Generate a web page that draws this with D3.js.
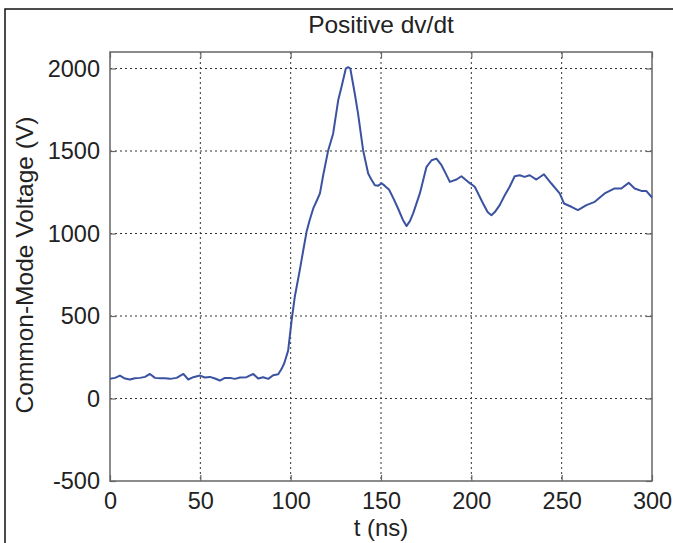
<!DOCTYPE html>
<html>
<head>
<meta charset="utf-8">
<script src="https://cdn.jsdelivr.net/npm/d3@7"></script>
<style>
  html, body { margin: 0; padding: 0; background: #fff; }
  svg { display: block; }
  text { font-family: "Liberation Sans", Arial, sans-serif; fill: #222; }
</style>
</head>
<body>
<svg id="chart" width="673" height="543"></svg>
<script>
{
  // values
  const timeNs = [
    0, 2.8, 5.5, 8.3, 11, 13.8, 16.6, 19.4, 22.1, 24.9, 27.6, 30.4, 33.2, 36.9,
    40.6, 43.3, 46.1, 49.8, 52.5, 55.3, 58.1, 60.8, 63.6, 66.4, 69.1, 71.9, 75.6,
    79.3, 82, 84.8, 87.6, 90.3, 93.1, 95, 96.5, 98.6, 100.5, 102.3, 105, 107,
    108.8, 110.5, 112.5, 114.5, 116.2, 118, 120.8, 123.5, 126.3, 128.1, 130.5,
    131.8, 133, 135.5, 137.3, 140.1, 142.9, 144.5, 146.6, 148.5, 150.3, 152,
    154.5, 157, 159.5, 162, 164.1, 166, 167.8, 171.5, 175.2, 178, 180.7, 183.5,
    186, 188.1, 191.8, 194.5, 198.2, 201.9, 206.5, 209, 211.1, 213, 215.7,
    218.5, 221.2, 224, 226.8, 229.5, 232.3, 236, 240.2, 244.3, 248.9, 251.3,
    255.4, 259, 263.7, 268.3, 273.8, 279.3, 283, 287.1, 290.4, 294.1, 296.8, 300
  ];
  const voltage = [
    120, 125, 139, 121, 115, 123, 125, 131, 149, 125, 123, 123, 119, 125,
    149, 115, 129, 139, 127, 131, 121, 109, 125, 125, 119, 127, 129,
    149, 121, 129, 119, 141, 147, 180, 215, 290, 470, 618, 775, 900,
    1010, 1080, 1152, 1200, 1243, 1353, 1505, 1605, 1807, 1887, 1999,
    2008, 2000, 1847, 1727, 1505, 1364, 1330, 1293, 1290, 1305, 1290,
    1265, 1210, 1150, 1085, 1045, 1075, 1122, 1243, 1404, 1444, 1454, 1414,
    1360, 1313, 1327, 1347, 1313, 1283, 1182, 1130, 1111, 1130, 1172,
    1232, 1283, 1347, 1353, 1343, 1353, 1327, 1359, 1303, 1243, 1182,
    1162, 1142, 1172, 1192, 1243, 1273, 1273, 1307, 1273, 1258, 1258, 1218
  ];
  const xTicks = [0, 50, 100, 150, 200, 250, 300];
  const yTicks = [-500, 0, 500, 1000, 1500, 2000];

  const LINE_BLUE = '#3a52a0';
  const BOX_GREY = '#666';

  const svg = d3.select('#chart');
  const margin = {left: 110, top: 52, right: 21, bottom: 62};
  const width = 673 - margin.left - margin.right;
  const height = 543 - margin.top - margin.bottom;

  const x = d3.scaleLinear().domain([0, 300]).range([0, width]);
  const y = d3.scaleLinear().domain([-500, 2100]).range([height, 0]);

  // plain labels, no thousands comma, ascii minus
  const plain = (d) => String(d);

  // outer frame (only left and top edges fall inside the picture)
  svg.append('rect')
    .attr('x', 5).attr('y', 9)
    .attr('width', 800).attr('height', 800)
    .attr('fill', 'none')
    .attr('stroke', '#111')
    .attr('stroke-width', 1.5);

  const g = svg.append('g')
    .attr('transform', `translate(${margin.left},${margin.top})`);

  // grid
  g.append('g').selectAll('line')
    .data(xTicks.slice(1, -1))
    .join('line')
      .attr('x1', d => x(d)).attr('x2', d => x(d))
      .attr('y1', 0).attr('y2', height)
      .attr('stroke', '#333')
      .attr('stroke-dasharray', '2,3');

  g.append('g').selectAll('line')
    .data(yTicks.slice(1))
    .join('line')
      .attr('x1', 0).attr('x2', width)
      .attr('y1', d => y(d)).attr('y2', d => y(d))
      .attr('stroke', '#333')
      .attr('stroke-dasharray', '2,3');

  // axes with inward ticks (labels drawn by the bottom/left axes)
  const styleAxis = (sel) => {
    sel.select('.domain').remove();
    sel.selectAll('.tick line').attr('stroke', BOX_GREY).attr('stroke-width', 1.2);
    sel.selectAll('.tick text')
      .attr('font-size', 23.5)
      .style('font-family', '"Liberation Sans", Arial, sans-serif')
      .attr('fill', '#222');
  };

  g.append('g')
    .attr('transform', `translate(0,${height})`)
    .call(d3.axisBottom(x).tickValues(xTicks).tickFormat(plain).tickSize(-6).tickPadding(11))
    .call(styleAxis);

  g.append('g')
    .call(d3.axisTop(x).tickValues(xTicks).tickSize(-6).tickFormat(''))
    .call(styleAxis);

  g.append('g')
    .call(d3.axisLeft(y).tickValues(yTicks).tickFormat(plain).tickSize(-6).tickPadding(10))
    .call(styleAxis);

  g.append('g')
    .attr('transform', `translate(${width},0)`)
    .call(d3.axisRight(y).tickValues(yTicks).tickSize(-6).tickFormat(''))
    .call(styleAxis);

  // axes box
  g.append('rect')
    .attr('width', width).attr('height', height)
    .attr('fill', 'none')
    .attr('stroke', BOX_GREY)
    .attr('stroke-width', 1.5);

  // data line
  const points = timeNs.map((t, i) => [t, voltage[i]]);
  g.append('path')
    .datum(points)
    .attr('fill', 'none')
    .attr('stroke', LINE_BLUE)
    .attr('stroke-width', 2)
    .attr('stroke-linejoin', 'round')
    .attr('d', d3.line().x(d => x(d[0])).y(d => y(d[1])));

  // titles
  svg.append('text')
    .attr('x', margin.left + width / 2)
    .attr('y', 33)
    .attr('text-anchor', 'middle')
    .attr('font-size', 24.5)
    .text('Positive dv/dt');

  svg.append('text')
    .attr('x', margin.left + width / 2)
    .attr('y', 536)
    .attr('text-anchor', 'middle')
    .attr('font-size', 24)
    .text('t (ns)');

  svg.append('text')
    .attr('transform', 'translate(33,265) rotate(-90)')
    .attr('text-anchor', 'middle')
    .attr('font-size', 24.5)
    .text('Common-Mode Voltage (V)');
}
</script>
</body>
</html>
